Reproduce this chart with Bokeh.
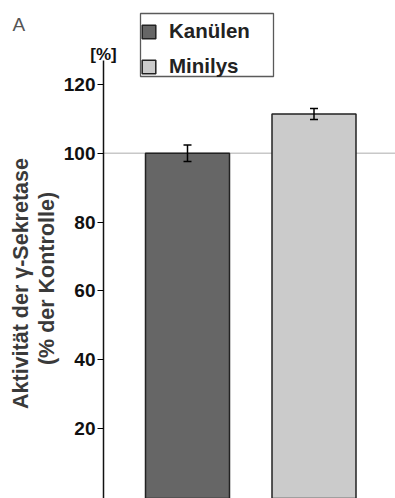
from math import pi

from bokeh.embed import file_html
from bokeh.models import (BoxAnnotation, ColumnDataSource, FixedTicker, Label,
                          Legend, LegendItem, LinearAxis, Range1d, TeeHead,
                          Whisker)
from bokeh.plotting import figure
from bokeh.resources import INLINE

# Relative gamma-secretase activity (% of control) with error
categories = ["Kanülen", "Minilys"]
activity = [100.0, 111.4]
error = [2.4, 1.6]
bar_colors = ["#666666", "#cbcbcb"]
y_ticks = [20, 40, 60, 80, 100, 120]
reference_level = 100

W, H = 395, 498
AXIS_PX = 103            # canvas column of the value axis
AXIS_TOP_PX = 60         # canvas row where the axis line ends
PX_PER_UNIT_Y = 3.44
ZERO_PY = 496.8          # canvas row of value 0
PX_PER_SLOT = 126.5      # pixels between bar centres
FIRST_CENTER_PX = 84     # first bar centre, measured from the axis

# the frame fills the whole canvas; the axis is pinned inside it
x_pos = [i + 1 for i in range(len(categories))]
x_start = 1 - (AXIS_PX + FIRST_CENTER_PX) / PX_PER_SLOT
x_end = x_start + W / PX_PER_SLOT
y_start = -(H - ZERO_PY) / PX_PER_UNIT_Y
y_end = ZERO_PY / PX_PER_UNIT_Y


def px_x(px):
    return x_start + px / PX_PER_SLOT


def py_y(py):
    return (ZERO_PY - py) / PX_PER_UNIT_Y


x_axis = px_x(AXIS_PX)

src = ColumnDataSource(dict(
    x=x_pos, cat=categories, val=activity,
    lo=[v - e for v, e in zip(activity, error)],
    hi=[v + e for v, e in zip(activity, error)],
    color=bar_colors,
))

p = figure(width=W, height=H, output_backend="svg", toolbar_location=None,
           title=None, x_range=Range1d(x_start, x_end),
           y_range=Range1d(y_start, y_end),
           x_axis_location=None, y_axis_location=None,
           min_border=0)
p.outline_line_color = None
p.grid.visible = False
p.background_fill_color = "white"
p.border_fill_color = "white"

# reference line at 100 %, from the axis to the right edge
p.ray(x=[x_axis], y=[reference_level], length=0, angle=0,
      line_color="#c8c8c8", line_width=1.5)

bars = p.vbar(x="x", top="val", bottom=y_start, width=84 / PX_PER_SLOT,
              source=src, fill_color="color", line_color="#222222",
              line_width=1.5)

p.add_layout(Whisker(source=src, base="x", lower="lo", upper="hi",
                     level="overlay", line_color="black", line_width=1.5,
                     upper_head=TeeHead(size=8, line_width=1.5,
                                        line_color="black"),
                     lower_head=TeeHead(size=8, line_width=1.5,
                                        line_color="black")))

FONT = "Liberation Sans"

ax = LinearAxis(ticker=FixedTicker(ticks=y_ticks), fixed_location=x_axis,
                bounds=(y_start, py_y(AXIS_TOP_PX)),
                axis_line_width=1.5, axis_line_color="#111111",
                major_tick_out=6, major_tick_in=0, major_tick_line_width=1.2,
                minor_tick_out=0, minor_tick_in=0, major_label_standoff=2,
                major_label_text_font=FONT,
                major_label_text_font_style="bold",
                major_label_text_font_size="19px",
                major_label_text_color="#111111")
p.add_layout(ax, "left")

legend = Legend(items=[LegendItem(label=c, renderers=[bars], index=i)
                       for i, c in enumerate(categories)],
                location=(140, H - 78), orientation="vertical",
                label_text_font=FONT,
                label_text_font_style="bold", label_text_font_size="20.5px",
                label_text_color="#222222", glyph_width=17, glyph_height=17,
                label_height=24, label_standoff=12, spacing=11, padding=4,
                margin=0, border_line_color=None,
                background_fill_alpha=0)
p.add_layout(legend, "center")

# frame drawn around the legend
p.add_layout(BoxAnnotation(left=px_x(140), right=px_x(273),
                           top=py_y(13), bottom=py_y(76),
                           fill_color=None, fill_alpha=0,
                           line_color="#5a5a5a", line_alpha=1,
                           line_width=1.3, level="overlay"))

p.add_layout(Label(x=px_x(12), y=py_y(24), text="A", text_font=FONT,
                   text_font_size="19px", text_color="#555555",
                   text_align="left", text_baseline="alphabetic"))
p.add_layout(Label(x=x_axis, y=py_y(54), text="[%]", text_font=FONT,
                   text_font_size="17px", text_font_style="bold",
                   text_color="#111111", text_align="center",
                   text_baseline="alphabetic"))

# two-line y-axis caption
p.add_layout(Label(x=px_x(20.5), y=py_y(283), angle=pi / 2,
                   text="Aktivität der γ-Sekretase", text_font=FONT,
                   text_font_size="21.5px", text_font_style="bold",
                   text_color="#3a3a3a", text_align="center",
                   text_baseline="middle"))
p.add_layout(Label(x=px_x(46.5), y=py_y(278), angle=pi / 2,
                   text="(% der Kontrolle)", text_font=FONT,
                   text_font_size="21.5px", text_font_style="bold",
                   text_color="#3a3a3a", text_align="center",
                   text_baseline="middle"))

open("out.html", "w").write(file_html(p, INLINE))
